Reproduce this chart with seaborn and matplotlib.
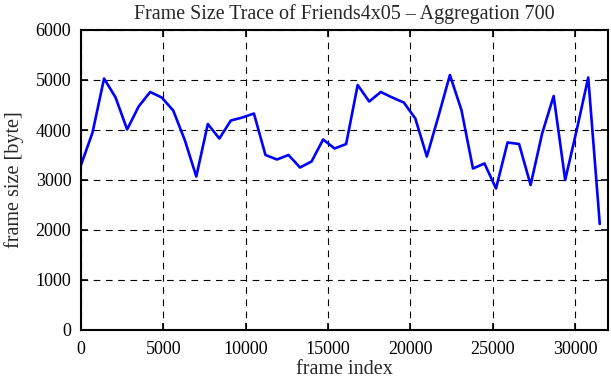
import numpy as np
import pandas as pd
import matplotlib
matplotlib.use('Agg')
import matplotlib.pyplot as plt
import seaborn as sns

# frame index (aggregation 700) and aggregated frame size
frame_index = [i * 700 for i in range(46)]
frame_size = [3300, 3950, 5030, 4650, 4010, 4470, 4760, 4650, 4390, 3800,
              3070, 4120, 3830, 4190, 4250, 4330, 3500, 3410, 3500, 3250,
              3370, 3810, 3630, 3720, 4900, 4570, 4760, 4650, 4550, 4230,
              3470, 4270, 5100, 4400, 3230, 3330, 2830, 3750, 3720, 2900,
              3930, 4680, 3000, 4000, 5050, 2120]
x_ticks = [0, 5000, 10000, 15000, 20000, 25000, 30000]
y_ticks = [0, 1000, 2000, 3000, 4000, 5000, 6000]

df = pd.DataFrame({'frame index': frame_index, 'frame size': frame_size})

sns.set_style('ticks')
plt.rcParams['font.family'] = ['Liberation Serif', 'DejaVu Serif']

fig = plt.figure(figsize=(6.11, 3.80), dpi=100)
ax = fig.add_axes([81/611, 50/380, 527/611, 300/380])

sns.lineplot(data=df, x='frame index', y='frame size', color='#0000ff', linewidth=1.9, ax=ax)

ax.set_xlim(0, 32000)
ax.set_ylim(0, 6000)
ax.set_xticks(x_ticks)
ax.set_yticks(y_ticks)
ax.grid(True, color='black', linestyle=(0, (6, 5)), linewidth=0.8)
ax.tick_params(direction='in', length=5, width=1.2, top=True, right=True, labelsize=13, colors='black')
ax.tick_params(axis='x', pad=8)
ax.tick_params(axis='y', pad=7)
for s in ax.spines.values():
    s.set_linewidth(1.5)
    s.set_color('black')

ax.set_title('Frame Size Trace of Friends4x05 \u2013 Aggregation 700', fontsize=14.4, pad=8)
ax.set_xlabel('frame index', fontsize=14.5, labelpad=1)
ax.set_ylabel('frame size [byte]', fontsize=14.5, labelpad=8)

fig.savefig('out.png', dpi=100)
